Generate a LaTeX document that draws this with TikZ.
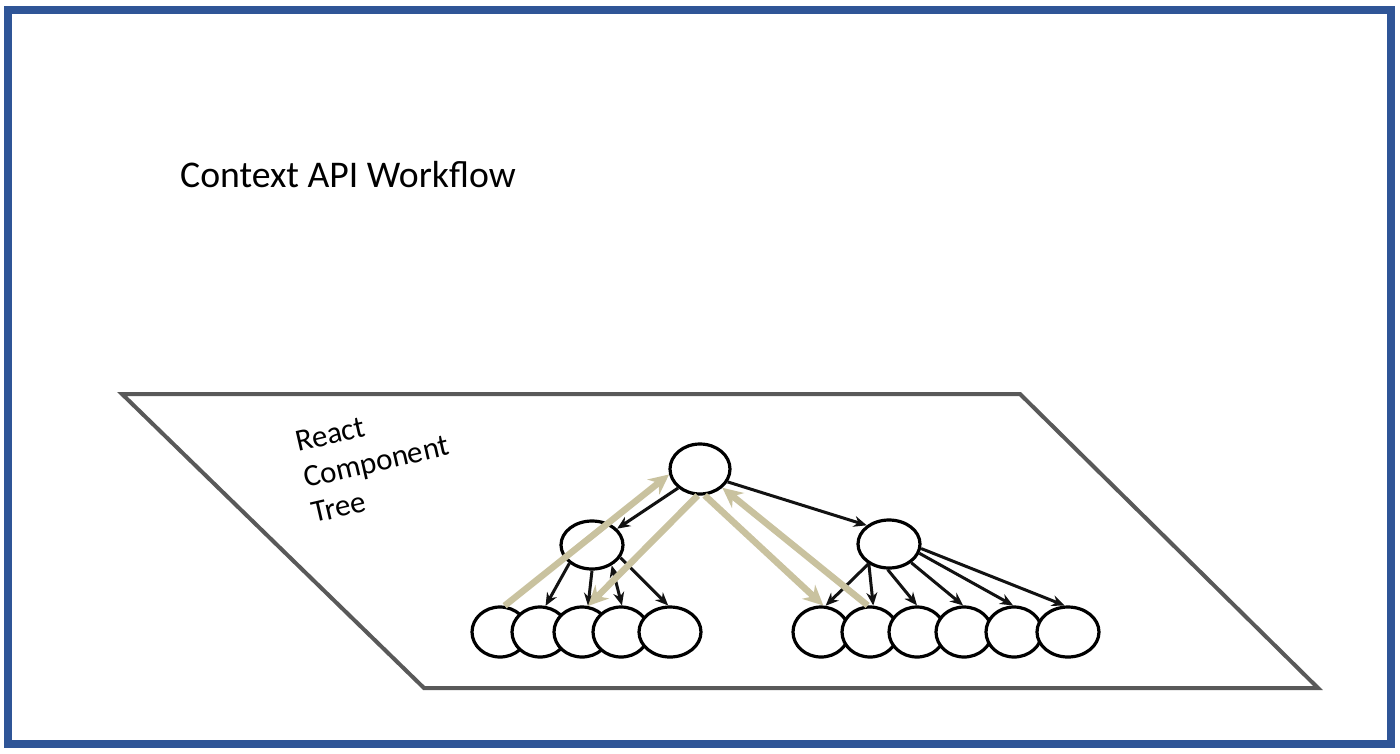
\documentclass[tikz,border=0pt]{standalone}
\usepackage{fontspec}
\setmainfont{Carlito}
\usetikzlibrary{shapes.geometric,arrows.meta}
\definecolor{framebl}{HTML}{2F5597}
\definecolor{planegray}{HTML}{595959}
\definecolor{khaki}{HTML}{C9C29F}
\tikzset{
  comp/.style={ellipse,draw=black,fill=white,line width=3.2pt,inner sep=0pt,
    minimum width=58pt,minimum height=50pt},
  midcomp/.style={comp,minimum width=62pt,minimum height=48pt},
  rootcomp/.style={comp,minimum width=60pt,minimum height=50pt},
  leafcomp/.style={comp,minimum width=56pt,minimum height=50pt},
  lastleaf/.style={comp,minimum width=62pt,minimum height=50pt},
  flow/.style={draw=black!93,line width=3pt,-{Stealth[length=13pt,width=11pt]}},
  ctx/.style={draw=khaki,line width=6.5pt,-{Stealth[length=20pt,width=19pt]}},
  label/.style={inner sep=0pt,font=\fontsize{31}{36}\selectfont,rotate=13,anchor=base west}
}
\begin{document}
\begin{tikzpicture}[x=1pt,y=-1pt]
\useasboundingbox (0,0) rectangle (1400,753);
\fill[white] (0,0) rectangle (1400,753);
% frame
\draw[framebl,line width=8pt] (8,10) rectangle (1391,744);
% title
\node[inner sep=0pt,anchor=base west,font=\fontsize{37.7}{44}\selectfont] (title) at (180,187) {Context API Workflow};
% plane
\draw[planegray,line width=4pt,line join=miter] (122,394) -- (1020,394) -- (1318,688) -- (424,688) -- cycle;
% plane label
\node[label] (lbl1) at (298,452) {React};
\node[label] (lbl2) at (306,488) {Component};
\node[label] (lbl3) at (314,523) {Tree};
% components
\node[rootcomp] (root) at (700,469) {};
\node[midcomp] (lmid) at (592,545) {};
\node[midcomp] (rmid) at (889,544) {};
\node[leafcomp] (L1) at (500,632) {};
\node[leafcomp] (L2) at (540,632) {};
\node[leafcomp] (L3) at (582,632) {};
\node[leafcomp] (L4) at (621,632) {};
\node[lastleaf] (L5) at (670,632) {};
\node[leafcomp] (R1) at (821,632) {};
\node[leafcomp] (R2) at (870,632) {};
\node[leafcomp] (R3) at (917,632) {};
\node[leafcomp] (R4) at (964,632) {};
\node[leafcomp] (R5) at (1014,632) {};
\node[lastleaf] (R6) at (1068,632) {};
% black flows
\draw[flow] (root.221) -- (lmid.33);
\draw[flow] (root.-25) -- (rmid.140);
\draw[flow] (lmid.219) -- (L2.78);
\draw[flow] (lmid.270) -- (L3.77);
\draw[flow,{Stealth[length=12pt,width=10pt]}-{Stealth[length=13pt,width=11pt]}] (lmid.-46) -- (L4.88);
\draw[flow] (lmid.-24) -- (L5.94);
\draw[flow] (rmid.224) -- (R1.80);
\draw[flow] (rmid.225) -- (R2.83);
\draw[flow] (rmid.267) -- (R3.90);
\draw[flow] (rmid.-40) -- (R4.92);
\draw[flow] (rmid.-17) -- (R5.92);
\draw[flow] (rmid.-8) -- (R6.97);
% context flows
\draw[ctx] (L1.80) -- (root.190);
\draw[ctx] (root.265) -- (L3.77);
\draw[ctx] (root.-80) -- (R1.85);
\draw[ctx] (R2.95) -- (root.-40);
\end{tikzpicture}
\end{document}
